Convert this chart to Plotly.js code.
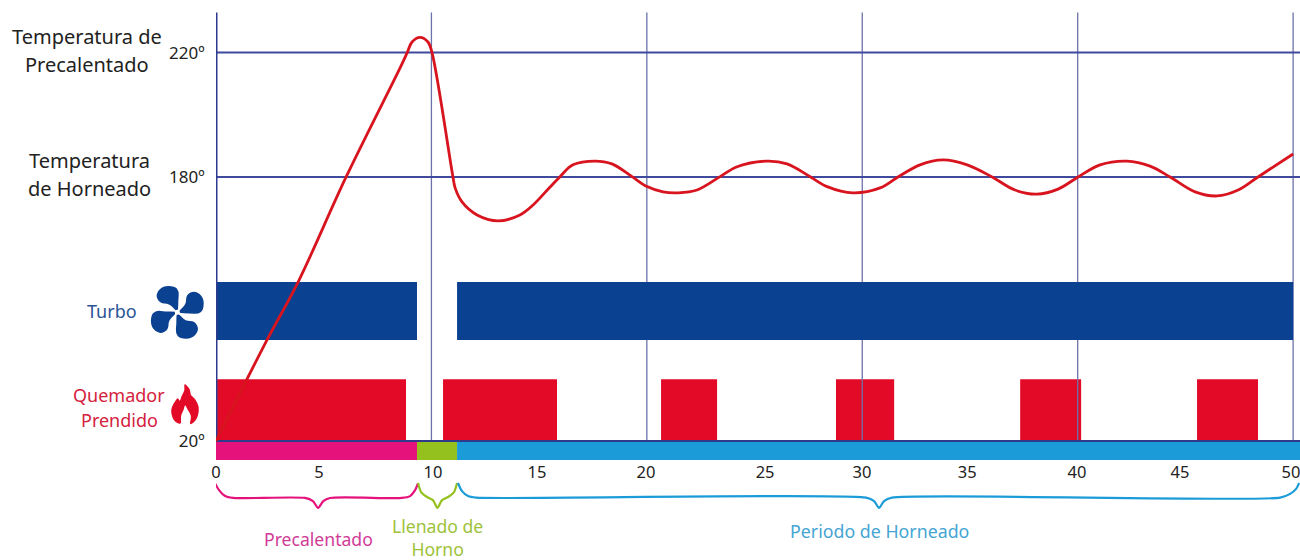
<!DOCTYPE html>
<html><head><meta charset="utf-8">
<script src="https://cdn.plot.ly/plotly-3.0.1.min.js"></script>
<style>html,body{margin:0;padding:0;background:#fff}#c{width:1300px;height:560px}</style>
</head><body><div id="c"></div>
<script>
// Temperature curve (x = minutes, y = position on the schematic temperature axis)
const curveX = [0,2.37,3.81,6.04,8.54,8.87,9.10,9.47,9.84,10.03,11.0,11.1,11.42,12.12,13.09,14.11,14.72,15.51,15.97,16.57,17.6,18.38,19.31,20.01,20.75,21.45,22.33,23.4,24.19,25.58,26.51,27.58,28.37,29.57,30.83,31.66,32.68,33.75,34.87,36.03,37.09,38.11,39.09,40.02,41.04,42.29,43.36,44.29,45.45,46.47,47.45,48.37,50];
const curveY = [95.1,127.6,146.2,180,215,219.9,223.4,224.9,223.4,219.9,180,176.5,172,167.8,165.9,167.8,171,176.8,180.1,183.9,185.1,184.2,180.1,176.9,175.2,174.9,175.8,180.1,183.3,185.1,184.2,180.1,176.9,174.9,176.5,180,183.9,185.5,183.9,180,175.8,174.5,176.1,180,183.9,185.1,183.5,180,175.2,173.9,175.8,180,187.4];
// On/off periods
const turboStart = [0,11.19];
const turboEnd = [9.33,50];
const burnerStart = [0.05,10.54,20.66,28.78,37.33,45.54];
const burnerEnd = [8.82,15.83,23.26,31.48,40.16,48.37];
// Phases
const phaseStart = [0,9.33,11.19];
const phaseEnd = [9.33,11.19,50.32];
const phaseColors = ['#e5127c','#95c11f','#1b9cd8'];
const phaseLabelColors = ['#cf3b96','#9dc23a','#45a5d3'];
// Axis ticks
const xTickVals = [0,4.78,10.07,14.9,19.96,25.49,29.99,34.87,39.97,44.75,49.9];
const xTickText = ['0','5','10','15','20','25','30','35','40','45','50'];
const yTickVals = [95.1,180,220];
const yTickText = ['20º','180º','220º'];
const gridX = [10,20,30,40,50];
const gridY = [180,220];
// Braces
const braceX = [
 [-0.05,0.14,0.42,0.79,4.13,4.5,4.74,4.98,5.29,8.63,9.01,9.24,9.38],
 [9.38,9.52,9.8,10.07,10.28,10.49,10.77,11.05,11.19],
 [11.23,11.42,11.7,12.07,30.18,30.55,30.78,31.01,31.38,49.4,49.86,50.14,50.28]
];
const braceY = [
 [81.6,79.3,77.4,76.8,76.8,75.8,73.6,75.8,76.8,76.8,77.4,79.3,81.6],
 [81.6,78.7,77.1,76.1,73.6,76.1,77.1,78.7,81.6],
 [81.6,79,77.4,76.9,76.9,75.8,73.6,75.8,76.9,76.9,78.1,79.7,81.6]
];
const yMin = 56.85, bandLow = 89, yMax = 236.9, axisBase = 95.1, axisTop = 232.9, xMax = 50.32;
const turboLow = 127.6, turboHigh = 146.2, burnerHigh = 115;

function rects(starts, ends, lo, hi, color){
  const x=[], y=[];
  starts.forEach((s,i)=>{ x.push(s,ends[i],ends[i],s,s,null); y.push(lo,lo,hi,hi,lo,null); });
  return {x,y,type:'scatter',mode:'lines',fill:'toself',fillcolor:color,line:{width:0,color:color},hoverinfo:'skip',cliponaxis:false};
}
function segs(pairs, color, width){
  const x=[], y=[];
  pairs.forEach(p=>{ x.push(p[0],p[2],null); y.push(p[1],p[3],null); });
  return {x,y,type:'scatter',mode:'lines',line:{color:color,width:width},hoverinfo:'skip',cliponaxis:false};
}
const traces = [];
traces.push(rects(burnerStart,burnerEnd,axisBase,burnerHigh,'#e30a27'));
traces.push(segs(gridX.map(v=>[v,axisBase,v,axisTop]),'#6d72ab',1.3));
traces.push(segs(gridY.map(v=>[0,v,xMax,v]),'#3f4a9c',2));
traces.push(rects(turboStart,turboEnd,turboLow,turboHigh,'#0b4191'));
phaseStart.forEach((s,i)=>traces.push(rects([s],[phaseEnd[i]],bandLow,axisBase,phaseColors[i])));
traces.push(segs([[0,axisBase,xMax,axisBase]],'#2f3a8c',2));
traces.push(segs([[0,axisBase,0,axisTop]],'#2e3a90',3));
traces.push({x:curveX,y:curveY,type:'scatter',mode:'lines',line:{color:'#d8141f',width:2.8,shape:'spline',smoothing:1},hoverinfo:'skip',cliponaxis:false});
braceX.forEach((bx,i)=>traces.push({x:bx,y:braceY[i],type:'scatter',mode:'lines',line:{color:phaseColors[i],width:2.2,shape:'spline',smoothing:0.7},hoverinfo:'skip',cliponaxis:false}));

const W=1084, H=560, L=216;
const fx=p=>(p-L)/W, fy=p=>(H-p)/H;
const FONT='"Noto Sans", sans-serif';
function label(text,px,py,color,size){
  return {text:text,xref:'paper',yref:'paper',x:fx(px),y:fy(py),xanchor:'center',yanchor:'middle',showarrow:false,font:{family:FONT,size:size,color:color},align:'center'};
}
const anns=[
 label('Temperatura de',86.5,37,'#222',20), label('Precalentado',87,64,'#222',20),
 label('Temperatura',89,160.5,'#222',20), label('de Horneado',89,188.5,'#222',20),
 label('Turbo',112,311,'#2b5597',18),
 label('Quemador',119,395,'#d4213d',18), label('Prendido',119,420,'#d4213d',18),
 label('Precalentado',318,539,phaseLabelColors[0],17.6),
 label('Llenado de<br>Horno',437,537,phaseLabelColors[1],17.6),
 label('Periodo de Horneado',879,531,phaseLabelColors[2],17.8)
];
// Icons: smooth closed outline through midpoints (pixel offsets, y up)
function blob(pts){
  const n=pts.length; const m=(a,b)=>[(a[0]+b[0])/2,(a[1]+b[1])/2];
  let s=m(pts[n-1],pts[0]); let d='M'+s[0].toFixed(1)+','+s[1].toFixed(1);
  for(let i=0;i<n;i++){const e=m(pts[i],pts[(i+1)%n]); d+=' Q'+pts[i][0].toFixed(1)+','+pts[i][1].toFixed(1)+' '+e[0].toFixed(1)+','+e[1].toFixed(1);}
  return d+' Z';
}
const petal=[[0.9,-0.9],[0.9,-12.3],[1.8,-21],[-2.6,-26.4],[-15,-26.4],[-22,-17.6],[-17.6,-8.8],[-8,-8.8],[-1.8,-1.8]];
const fanPath=[0,1,2,3].map(k=>{
  let pts=petal.map(p=>p.slice());
  for(let r=0;r<k;r++) pts=pts.map(p=>[-p[1],p[0]]);
  return blob(pts.map(p=>[p[0],-p[1]]));
}).join(' ');
const flamePts=[[56,8],[76,26],[76,46],[90,54],[104,84],[96,120],[72,138],[80,108],[68,90],[60,72],[56,92],[46,108],[50,136],[24,122],[16,88],[32,60],[40,52],[44,66],[50,46],[60,30]];
const flamePath=blob(flamePts.map(p=>[p[0]/3,-p[1]/3]));
const icon=(path,px,py,color)=>({type:'path',xref:'paper',yref:'paper',xsizemode:'pixel',ysizemode:'pixel',xanchor:fx(px),yanchor:fy(py),path:path,fillcolor:color,line:{width:0}});
const shapes=[
 icon(fanPath,177.3,312.3,'#0b4191'),
 {type:'circle',xref:'paper',yref:'paper',xsizemode:'pixel',ysizemode:'pixel',xanchor:fx(177.3),yanchor:fy(312.3),x0:-2.5,x1:2.5,y0:-2.5,y1:2.5,fillcolor:'#fff',line:{width:0}},
 icon(flamePath,165,380,'#e30a27')
];
const layout={
 width:1300,height:560,margin:{l:L,r:0,t:0,b:0,pad:0},
 paper_bgcolor:'#fff',plot_bgcolor:'#fff',showlegend:false,
 xaxis:{range:[0,xMax],anchor:'free',position:(H-460)/H,tickmode:'array',tickvals:xTickVals,ticktext:xTickText,showgrid:false,zeroline:false,showline:false,ticks:'',ticklabeloverflow:'allow',tickfont:{family:FONT,size:16.5,color:'#222'},tickangle:0},
 yaxis:{range:[yMin,yMax],tickmode:'array',tickvals:yTickVals,ticktext:yTickText,showgrid:false,zeroline:false,showline:false,ticks:'outside',ticklen:7,tickcolor:'rgba(0,0,0,0)',tickfont:{family:FONT,size:17,color:'#222'}},
 annotations:anns,shapes:shapes
};
Plotly.newPlot('c',traces,layout,{displayModeBar:false,staticPlot:true});
</script></body></html>
